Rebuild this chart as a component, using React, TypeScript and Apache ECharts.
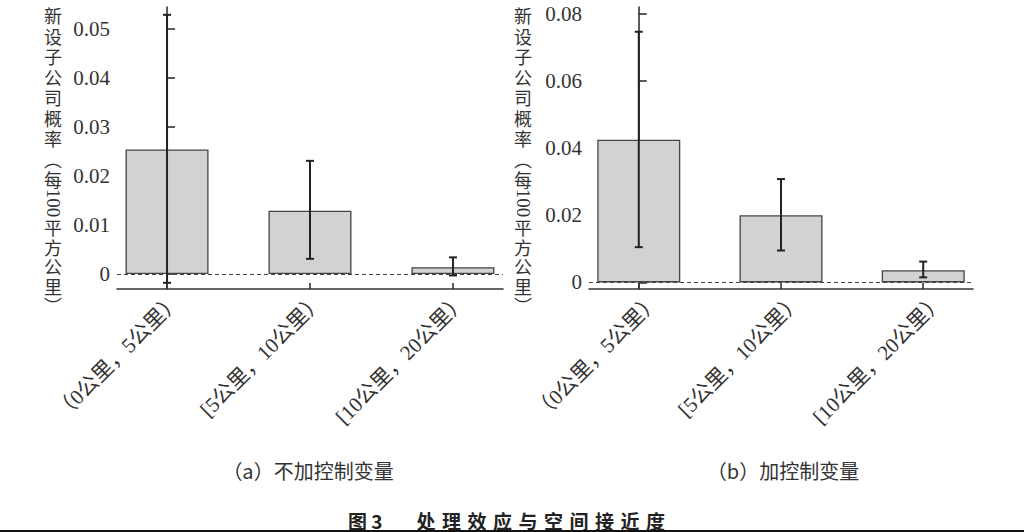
import React, { useEffect, useRef } from "react";
import * as echarts from "echarts";

// ---- data ----
const categories = ["（0公里，5公里）", "[5公里，10公里）", "[10公里，20公里）"];
const catIndex = [0, 1, 2];

const barsA = [0.0254, 0.0129, 0.0014];
const lowA = [-0.0018, 0.0031, -0.0003];
const highA = [0.0529, 0.0231, 0.0034];

const barsB = [0.0425, 0.02, 0.0036];
const lowB = [0.0105, 0.0095, 0.0015];
const highB = [0.0747, 0.0308, 0.0062];

const ticksA = [0, 0.01, 0.02, 0.03, 0.04, 0.05];
const ticksB = [0, 0.02, 0.04, 0.06, 0.08];

const yNameTop = ["新", "设", "子", "公", "司", "概", "率", "︵", "每"];
const yNameNum = "100";
const yNameBottom = ["平", "方", "公", "里", "︶"];

const subtitles = ["（a）不加控制变量", "（b）加控制变量"];
const captionLabel = "图3";
const captionTitle = "处理效应与空间接近度";

// ---- styles ----
const SERIF = "Liberation Serif, Noto Sans CJK SC, serif";
const CJK = "Noto Sans CJK SC, sans-serif";
const TEXT = "#333";
const AXIS = "#333";

function fmt(v: number) {
  return v === 0 ? "0" : v.toFixed(2);
}

function yAxisCfg(grid: number, min: number, max: number, ticks: number[]) {
  return {
    type: "value",
    gridIndex: grid,
    min,
    max,
    axisLine: { show: true, lineStyle: { color: AXIS, width: 1.6 } },
    axisTick: {
      show: true,
      inside: true,
      length: 8,
      customValues: ticks,
      lineStyle: { color: AXIS, width: 1.6 },
    },
    axisLabel: {
      show: true,
      customValues: ticks,
      formatter: (v: number) => fmt(v),
      margin: 7,
      fontSize: 21,
      fontFamily: SERIF,
      color: TEXT,
    },
    splitLine: { show: false },
  };
}

// visible axis: line + ticks
function xAxisCfg(grid: number) {
  return {
    type: "value",
    gridIndex: grid,
    position: "bottom",
    min: -0.35,
    max: 2.35,
    axisLine: { show: true, onZero: false, lineStyle: { color: AXIS, width: 1.6 } },
    axisTick: {
      show: true,
      inside: true,
      length: 6,
      customValues: catIndex,
      lineStyle: { color: AXIS, width: 1.6 },
    },
    axisLabel: { show: false },
    splitLine: { show: false },
  };
}

// label-only axis, slightly shifted like the reference's labels
function xLabelAxisCfg(grid: number, shift: number) {
  return {
    type: "value",
    gridIndex: grid,
    position: "bottom",
    offset: 0,
    min: -0.35 - shift,
    max: 2.35 - shift,
    axisLine: { show: false, onZero: false },
    axisTick: { show: false },
    axisLabel: {
      show: true,
      customValues: catIndex,
      formatter: (v: number) => categories[Math.round(v)] ?? "",
      rotate: 45,
      margin: 8,
      fontSize: 21,
      fontFamily: SERIF,
      color: TEXT,
    },
    splitLine: { show: false },
  };
}

function barSeries(idx: number, vals: number[]) {
  return {
    type: "bar",
    xAxisIndex: idx,
    yAxisIndex: idx,
    data: vals.map((v, i) => [catIndex[i], v]),
    barWidth: 83,
    itemStyle: { color: "#d2d2d4", borderColor: "#444", borderWidth: 1.3 },
    markLine: {
      silent: true,
      symbol: ["none", "none"],
      label: { show: false },
      lineStyle: { type: [4, 3], color: "#444", width: 1 },
      data: [{ yAxis: 0 }],
    },
    z: 2,
  };
}

function errSeries(idx: number, lows: number[], highs: number[]) {
  return {
    type: "custom",
    xAxisIndex: idx,
    yAxisIndex: idx,
    data: lows.map((l, i) => [catIndex[i], l, highs[i]]),
    encode: { x: 0, y: [1, 2] },
    z: 5,
    renderItem: (params: any, api: any) => {
      const lo = api.coord([api.value(0), api.value(1)]);
      const hi = api.coord([api.value(0), api.value(2)]);
      const cap = 4;
      const style = { stroke: "#222", lineWidth: 2 };
      return {
        type: "group",
        children: [
          { type: "line", shape: { x1: lo[0], y1: lo[1], x2: hi[0], y2: hi[1] }, style },
          { type: "line", shape: { x1: hi[0] - cap, y1: hi[1], x2: hi[0] + cap, y2: hi[1] }, style },
          { type: "line", shape: { x1: lo[0] - cap, y1: lo[1], x2: lo[0] + cap, y2: lo[1] }, style },
        ],
      };
    },
  };
}

function txt(x: number, y: number, text: string, extra: any = {}, rotation = 0) {
  return {
    type: "text",
    x,
    y,
    rotation,
    style: {
      text,
      fontSize: 18,
      lineHeight: 18,
      fontFamily: CJK,
      fill: TEXT,
      align: "center",
      textAlign: "center",
      verticalAlign: "middle",
      textVerticalAlign: "middle",
      ...extra,
    },
  };
}

function yNameGraphic(cx: number) {
  const out: any[] = [];
  yNameTop.forEach((ch, i) => out.push(txt(cx, 15 + i * 20.5, ch)));
  out.push(txt(cx, 203, yNameNum, { fontFamily: SERIF, fontSize: 19 }, -Math.PI / 2));
  yNameBottom.forEach((ch, i) => out.push(txt(cx, 227 + i * 19.5, ch)));
  return out;
}

export default function App() {
  const ref = useRef<HTMLDivElement>(null);

  useEffect(() => {
    if (!ref.current) return;
    const chart = echarts.init(ref.current, null, { renderer: "svg" });

    const captionChars = captionTitle
      .split("")
      .map((ch, i) =>
        txt(426 + i * 25.5, 520, ch, { fontWeight: "bold", fill: "#222", fontSize: 19, lineHeight: 19 })
      );

    const option: any = {
      animation: false,
      backgroundColor: "#fff",
      grid: [
        { left: 117, top: 7, width: 386, height: 282, outerBoundsMode: "none", containLabel: false },
        { left: 589, top: 7, width: 384, height: 282, outerBoundsMode: "none", containLabel: false },
      ],
      xAxis: [xAxisCfg(0), xAxisCfg(1), xLabelAxisCfg(0, 0.07), xLabelAxisCfg(1, 0.12)],
      yAxis: [
        yAxisCfg(0, -0.00306, 0.0545, ticksA),
        yAxisCfg(1, -0.00197, 0.08208, ticksB),
      ],
      series: [
        barSeries(0, barsA),
        errSeries(0, lowA, highA),
        barSeries(1, barsB),
        errSeries(1, lowB, highB),
      ],
      graphic: [
        ...yNameGraphic(53),
        ...yNameGraphic(523),
        txt(308, 470, subtitles[0], { fontSize: 20, lineHeight: 20 }),
        txt(783, 470, subtitles[1], { fontSize: 20, lineHeight: 20 }),
        txt(348, 520, captionLabel.replace("3", " 3"), {
          fontWeight: "bold",
          fill: "#222",
          fontSize: 19,
          lineHeight: 19,
          align: "left",
          textAlign: "left",
        }),
        ...captionChars,
        {
          type: "rect",
          shape: { x: 0, y: 530, width: 1024, height: 2 },
          style: { fill: "#111" },
        },
      ],
    };

    chart.setOption(option);
    return () => chart.dispose();
  }, []);

  return (
    <div
      ref={ref}
      style={{ position: "fixed", left: 0, top: 0, width: 1024, height: 532, background: "#fff" }}
    />
  );
}
